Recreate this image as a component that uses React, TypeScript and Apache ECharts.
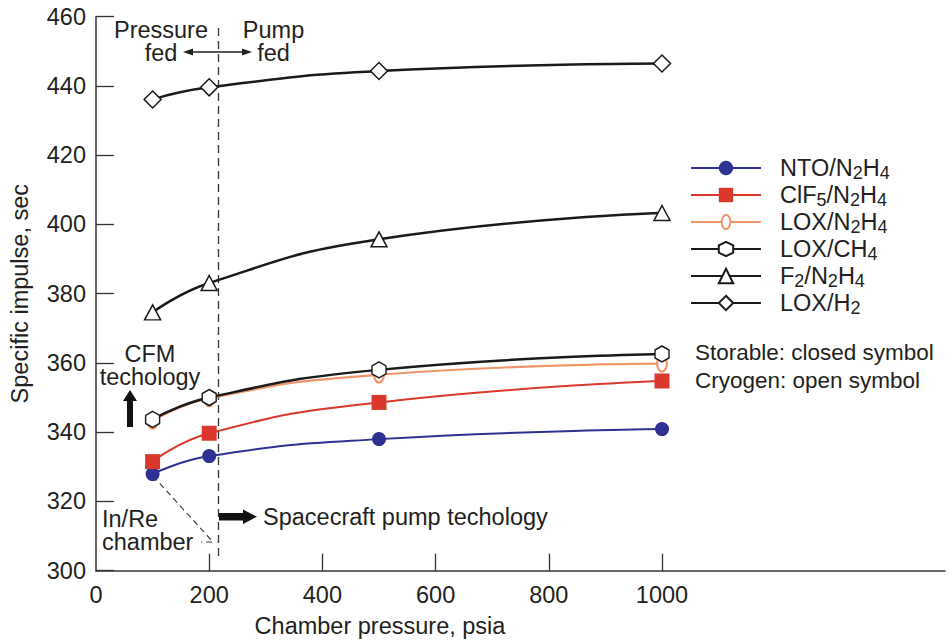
import React, { useEffect, useRef } from "react";
import * as echarts from "echarts";

// ---- data ----
const pressures = [100, 200, 500, 1000];
const ntoN2H4 = [327.9, 333.1, 338.0, 340.9];
const clf5N2H4 = [331.5, 339.7, 348.6, 354.8];
const loxN2H4 = [343.3, 349.8, 356.6, 359.8];
const loxCH4 = [343.7, 350.0, 358.0, 362.6];
const f2N2H4 = [374.6, 383.1, 395.7, 403.3];
const loxH2 = [436.1, 439.6, 444.3, 446.5];

const xTickValues = [0, 200, 400, 600, 800, 1000];
const seriesNames = ["NTO/N2H4", "ClF5/N2H4", "LOX/N2H4", "LOX/CH4", "F2/N2H4", "LOX/H2"];
const legendRich: Record<string, string> = {
  "NTO/N2H4": "{f|NTO/N}{s|2}{n|H}{s|4}",
  "ClF5/N2H4": "{f|ClF}{s|5}{n|/N}{s|2}{n|H}{s|4}",
  "LOX/N2H4": "{f|LOX/N}{s|2}{n|H}{s|4}",
  "LOX/CH4": "{f|LOX/CH}{s|4}",
  "F2/N2H4": "{f|F}{s|2}{n|/N}{s|2}{n|H}{s|4}",
  "LOX/H2": "{f|LOX/H}{s|2}",
};

const FONT = 'Arial, "Liberation Sans", Helvetica, sans-serif';
const TXT = "#231f20";
const BLACK = "#1a1a1a";
const BLUE = "#2e3192";
const RED = "#d9382b";
const ORANGE = "#f0956a";
const FS = 23.5;

const HEX = "path://M0,-1 L0.866,-0.5 L0.866,0.5 L0,1 L-0.866,0.5 L-0.866,-0.5 Z";
const ELLIPSE =
  "path://M-1,0 M1,0 M0,-1 C0.331,-1 0.6,-0.552 0.6,0 C0.6,0.552 0.331,1 0,1 C-0.331,1 -0.6,0.552 -0.6,0 C-0.6,-0.552 -0.331,-1 0,-1 Z";

function pairs(ys: number[]) {
  return pressures.map((x, i) => [x, ys[i]]);
}

function label(text: string, x: number, y: number, align = "center", size = FS) {
  return {
    type: "text",
    x,
    y,
    style: {
      text,
      fontSize: size,
      lineHeight: 23.5,
      fontFamily: FONT,
      fill: TXT,
      textAlign: align,
      textVerticalAlign: "middle",
    },
  };
}

export default function App() {
  const ref = useRef<HTMLDivElement>(null);
  useEffect(() => {
    document.body.style.margin = "0";
    const chart = echarts.init(ref.current!, null, { renderer: "svg" });
    const lineBase = (name: string, ys: number[], color: string, width: number) => ({
      name,
      type: "line",
      data: pairs(ys),
      smooth: 0.5,
      lineStyle: { color, width },
      z: 2,
    });
    const openStyle = { color: "#ffffff", borderColor: BLACK, borderWidth: 1.5 };
    const option: any = {
      animation: false,
      backgroundColor: "#ffffff",
      textStyle: { fontFamily: FONT },
      grid: { left: 96, right: 6, top: 16.7, bottom: 69.3 },
      xAxis: {
        type: "value",
        min: 0,
        max: 1500,
        interval: 200,
        axisLine: { show: true, lineStyle: { color: "#333", width: 1.5 } },
        axisTick: {
          show: true,
          inside: true,
          length: 17,
          customValues: xTickValues.slice(1),
          lineStyle: { color: "#333", width: 1.3 },
        },
        axisLabel: {
          customValues: xTickValues,
          formatter: (v: number) => String(v),
          fontSize: FS,
          color: TXT,
          margin: 12,
          fontFamily: FONT,
        },
        splitLine: { show: false },
      },
      yAxis: {
        type: "value",
        min: 300,
        max: 460,
        interval: 20,
        name: "Specific impulse, sec",
        nameLocation: "middle",
        nameGap: 64,
        nameTextStyle: { fontSize: FS, color: TXT, fontFamily: FONT },
        axisLine: { show: true, lineStyle: { color: "#333", width: 1.5 } },
        axisTick: { show: true, inside: true, length: 18, lineStyle: { color: "#333", width: 1.3 } },
        axisLabel: { fontSize: FS, color: TXT, margin: 10, fontFamily: FONT },
        splitLine: { show: false },
      },
      legend: {
        orient: "vertical",
        left: 690,
        top: 156,
        padding: 0,
        itemWidth: 70,
        itemHeight: 18,
        itemGap: 1,
        selectedMode: false,
        data: seriesNames,
        formatter: (name: string) => legendRich[name],
        textStyle: {
          color: TXT,
          fontFamily: FONT,
          rich: {
            f: { fontSize: 23.5, lineHeight: 28, color: TXT, fontFamily: FONT, padding: [0, 0, 0, 14] },
            n: { fontSize: 23.5, lineHeight: 28, color: TXT, fontFamily: FONT },
            s: { fontSize: 18, lineHeight: 14, verticalAlign: "bottom", color: TXT, fontFamily: FONT },
          },
        },
      },
      series: [
        {
          ...lineBase("NTO/N2H4", ntoN2H4, BLUE, 2),
          symbol: "circle",
          symbolSize: 14,
          itemStyle: { color: BLUE },
        },
        {
          ...lineBase("ClF5/N2H4", clf5N2H4, RED, 2),
          symbol: "rect",
          symbolSize: 15,
          itemStyle: { color: RED },
        },
        {
          ...lineBase("LOX/N2H4", loxN2H4, ORANGE, 2.2),
          symbol: ELLIPSE,
          symbolSize: 16,
          itemStyle: { color: "#ffffff", borderColor: ORANGE, borderWidth: 2.2 },
        },
        {
          ...lineBase("LOX/CH4", loxCH4, BLACK, 2.5),
          symbol: HEX,
          symbolSize: [14, 16],
          itemStyle: openStyle,
        },
        {
          ...lineBase("F2/N2H4", f2N2H4, BLACK, 2.5),
          symbol: "triangle",
          symbolSize: [16, 15],
          itemStyle: openStyle,
        },
        {
          ...lineBase("LOX/H2", loxH2, BLACK, 2.5),
          symbol: "diamond",
          symbolSize: 17,
          itemStyle: openStyle,
        },
      ],
      graphic: [
        // pressure/pump fed divider
        {
          type: "line",
          shape: { x1: 218.5, y1: 28, x2: 218.5, y2: 557 },
          style: { stroke: "#333", lineWidth: 1.3, lineDash: [8, 5] },
          z: 1,
        },
        label("Pressure\nfed", 161, 41.5),
        label("Pump\nfed", 273.5, 41.5),
        { type: "line", shape: { x1: 190, y1: 52, x2: 245, y2: 52 }, style: { stroke: "#222", lineWidth: 1.3 } },
        { type: "polygon", shape: { points: [[183, 52], [193, 48.5], [193, 55.5]] }, style: { fill: "#222" } },
        { type: "polygon", shape: { points: [[252, 52], [242, 48.5], [242, 55.5]] }, style: { fill: "#222" } },
        // CFM technology
        label("CFM\ntechology", 150, 365.5),
        {
          type: "polygon",
          shape: { points: [[127, 427], [127, 401], [123, 401], [130, 390], [137, 401], [133, 401], [133, 427]] },
          style: { fill: "#111" },
        },
        // In/Re chamber
        label("In/Re\nchamber", 102, 530.5, "left"),
        {
          type: "polyline",
          shape: { points: [[153, 476], [213, 542], [201, 542]] },
          style: { stroke: "#333", lineWidth: 1.1, lineDash: [6, 4], fill: null },
          z: 1,
        },
        // spacecraft pump
        {
          type: "polygon",
          shape: { points: [[219, 513], [243, 513], [243, 509.5], [257, 516.8], [243, 524], [243, 520.5], [219, 520.5]] },
          style: { fill: "#111" },
        },
        label("Spacecraft pump techology", 263, 517, "left"),
        // symbol key
        label("Storable: closed symbol", 695, 352, "left", 22.5),
        label("Cryogen: open symbol", 695, 380, "left", 22.5),
        // x axis name
        label("Chamber pressure, psia", 380, 626),
      ],
    };
    chart.setOption(option);
    return () => chart.dispose();
  }, []);
  return <div ref={ref} style={{ position: "fixed", left: 0, top: 0, width: 951, height: 640 }} />;
}
